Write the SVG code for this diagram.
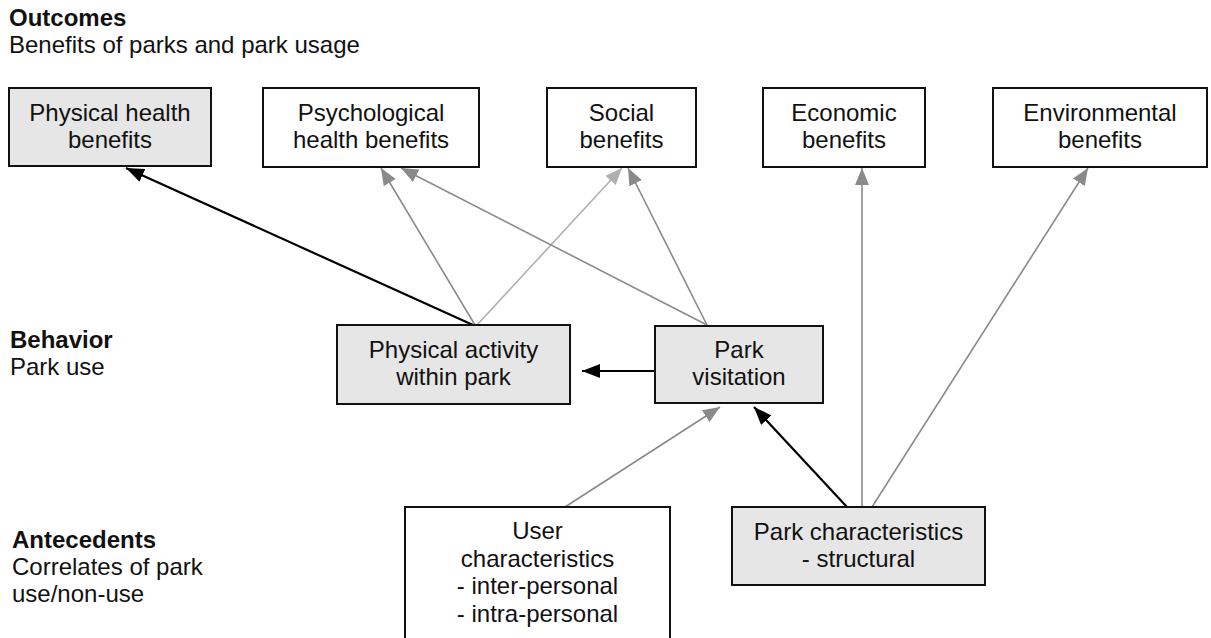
<svg xmlns="http://www.w3.org/2000/svg" width="1211" height="638" viewBox="0 0 1211 638">
<style>
text{font-family:"Liberation Sans",Arial,sans-serif;font-size:24px;fill:#111}
.b{font-weight:bold}
.c{text-anchor:middle}
.box{fill:#fff;stroke:#111;stroke-width:2}
.g{fill:#e6e6e6}
.k{stroke:#000;stroke-width:2.2;fill:none}
.m{stroke:#8a8a8a;stroke-width:1.6;fill:none}
.l{stroke:#b0b0b0;stroke-width:1.6;fill:none}
</style>
<defs>
<marker id="ak" markerWidth="18" markerHeight="14" refX="18" refY="7" orient="auto" markerUnits="userSpaceOnUse"><path d="M0,0 L18,7 L0,14 z" fill="#000"/></marker>
<marker id="am" markerWidth="17" markerHeight="14" refX="17" refY="7" orient="auto" markerUnits="userSpaceOnUse"><path d="M0,0 L17,7 L0,14 z" fill="#8a8a8a"/></marker>
<marker id="al" markerWidth="17" markerHeight="14" refX="17" refY="7" orient="auto" markerUnits="userSpaceOnUse"><path d="M0,0 L17,7 L0,14 z" fill="#b0b0b0"/></marker>
</defs>
<g id="labels">
<text x="9" y="26" class="b">Outcomes</text>
<text x="9" y="53">Benefits of parks and park usage</text>
<text x="10" y="348" class="b">Behavior</text>
<text x="10" y="375">Park use</text>
<text x="12" y="548" class="b">Antecedents</text>
<text x="12" y="575">Correlates of park</text>
<text x="12" y="602">use/non-use</text>
</g>
<g id="connectors">
<line class="k" x1="473" y1="325" x2="126" y2="168" marker-end="url(#ak)"/>
<line class="m" x1="475" y1="325" x2="381" y2="168" marker-end="url(#am)"/>
<line class="l" x1="477" y1="325" x2="622" y2="168" marker-end="url(#al)"/>
<line class="m" x1="707" y1="325" x2="401" y2="168" marker-end="url(#am)"/>
<line class="m" x1="707" y1="325" x2="628" y2="168" marker-end="url(#am)"/>
<line class="k" x1="655" y1="371" x2="582" y2="371" marker-end="url(#ak)"/>
<line class="m" x1="565" y1="507" x2="720" y2="407" marker-end="url(#am)"/>
<line class="k" x1="847" y1="507" x2="754" y2="407" marker-end="url(#ak)"/>
<line class="m" x1="862" y1="507" x2="862" y2="168" marker-end="url(#am)"/>
<line class="m" x1="872" y1="507" x2="1088" y2="168" marker-end="url(#am)"/>
</g>
<g id="physical-health">
<rect class="box g" x="9" y="88" width="202" height="78"/>
<text class="c" x="110" y="121">Physical health</text>
<text class="c" x="110" y="148">benefits</text>
</g>
<g id="psychological-health">
<rect class="box" x="263" y="88" width="216" height="79"/>
<text class="c" x="371" y="121">Psychological</text>
<text class="c" x="371" y="148">health benefits</text>
</g>
<g id="social">
<rect class="box" x="547" y="88" width="149" height="79"/>
<text class="c" x="621.5" y="121">Social</text>
<text class="c" x="621.5" y="148">benefits</text>
</g>
<g id="economic">
<rect class="box" x="763" y="88" width="162" height="79"/>
<text class="c" x="844" y="121">Economic</text>
<text class="c" x="844" y="148">benefits</text>
</g>
<g id="environmental">
<rect class="box" x="993" y="88" width="214" height="79"/>
<text class="c" x="1100" y="121">Environmental</text>
<text class="c" x="1100" y="148">benefits</text>
</g>
<g id="physical-activity">
<rect class="box g" x="337" y="325" width="233" height="79"/>
<text class="c" x="453.5" y="358">Physical activity</text>
<text class="c" x="453.5" y="385">within park</text>
</g>
<g id="park-visitation">
<rect class="box g" x="655" y="326" width="168" height="77"/>
<text class="c" x="739" y="358">Park</text>
<text class="c" x="739" y="385">visitation</text>
</g>
<g id="user-characteristics">
<rect class="box" x="405" y="507" width="265" height="140"/>
<text class="c" x="537.5" y="539">User</text>
<text class="c" x="537.5" y="566.5">characteristics</text>
<text class="c" x="537.5" y="594">- inter-personal</text>
<text class="c" x="537.5" y="621.5">- intra-personal</text>
</g>
<g id="park-characteristics">
<rect class="box g" x="732" y="507" width="253" height="78"/>
<text class="c" x="858.5" y="540">Park characteristics</text>
<text class="c" x="858.5" y="567">- structural</text>
</g>
</svg>
